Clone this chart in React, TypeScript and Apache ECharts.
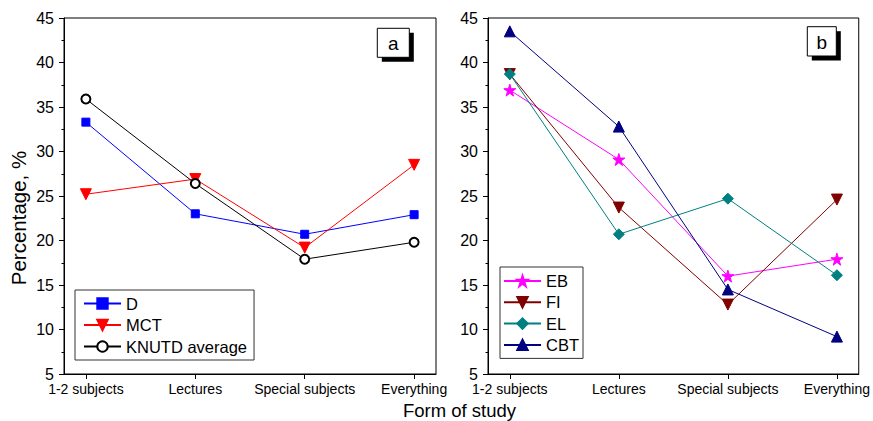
import React, { useEffect, useRef } from "react";
import * as echarts from "echarts";

const categories = ["1-2 subjects", "Lectures", "Special subjects", "Everything"];
const categoryPositions = [0, 1, 2, 3];
const yMin = 5;
const yMax = 45;
const yInterval = 5;

const dValues = [33.3, 23.0, 20.7, 22.9];
const mctValues = [25.2, 26.9, 19.2, 28.5];
const knutdValues = [35.9, 26.4, 17.9, 19.8];

const ebValues = [36.9, 29.1, 16.0, 17.9];
const fiValues = [38.7, 23.7, 12.8, 24.6];
const elValues = [38.7, 20.7, 24.7, 16.1];
const cbtValues = [43.5, 32.8, 14.5, 9.2];

const FONT = "'Liberation Sans', Arial, sans-serif";
const STAR =
  "path://M50,0 L61.2,34.5 L97.6,34.5 L68.2,55.9 L79.4,90.5 L50,69.1 L20.6,90.5 L31.8,55.9 L2.4,34.5 L38.8,34.5 Z";

const toPoints = (vals: number[]) => vals.map((v, i) => [categoryPositions[i], v]);

function makeXAxis(gridIndex: number) {
  return {
    type: "value",
    gridIndex,
    min: -0.2,
    max: 3.2,
    axisLine: { show: true, onZero: false, lineStyle: { color: "#000", width: 1 } },
    splitLine: { show: false },
    axisTick: {
      show: true,
      customValues: categoryPositions,
      length: 5,
      inside: false,
      lineStyle: { color: "#000" },
    },
    axisLabel: {
      show: true,
      customValues: categoryPositions,
      formatter: (v: number) => categories[Math.round(v)] ?? "",
      fontSize: 14,
      color: "#000",
      fontFamily: FONT,
      margin: 8,
      hideOverlap: false,
    },
  };
}

function makeYAxis(gridIndex: number) {
  return {
    type: "value",
    gridIndex,
    min: yMin,
    max: yMax,
    interval: yInterval,
    axisLine: { show: true, onZero: false, lineStyle: { color: "#000", width: 1 } },
    splitLine: { show: false },
    axisTick: { show: true, length: 5, inside: false, lineStyle: { color: "#000" } },
    minorTick: { show: true, splitNumber: 2, length: 2.5, lineStyle: { color: "#000" } },
    axisLabel: {
      fontSize: 16,
      color: "#000",
      fontFamily: FONT,
      margin: 10,
    },
  };
}

function lineSeries(
  name: string,
  vals: number[],
  idx: number,
  color: string,
  symbol: string,
  symbolSize: number,
  extra: any = {}
) {
  return {
    name,
    type: "line",
    xAxisIndex: idx,
    yAxisIndex: idx,
    data: toPoints(vals),
    symbol,
    symbolSize,
    showAllSymbol: true,
    lineStyle: { color, width: 1 },
    itemStyle: { color, borderColor: color, borderWidth: 1 },
    emphasis: { disabled: true },
    z: 2,
    ...extra,
  };
}

function labelBox(x: number, y: number, w: number, h: number, text: string) {
  return {
    type: "group",
    children: [
      { type: "rect", shape: { x: x + 4.5, y: y + 4.5, width: w, height: h }, style: { fill: "#000" } },
      {
        type: "rect",
        shape: { x, y, width: w, height: h },
        style: { fill: "#fff", stroke: "#000", lineWidth: 1 },
      },
      {
        type: "text",
        x: x + w / 2,
        y: y + h / 2 + 1,
        style: {
          text,
          fill: "#000",
          font: `19px ${FONT}`,
          align: "center",
          verticalAlign: "middle",
        },
      },
    ],
  };
}

export default function App() {
  const ref = useRef<HTMLDivElement>(null);
  useEffect(() => {
    document.body.style.margin = "0";
    if (!ref.current) return;
    const chart = echarts.init(ref.current, null, { renderer: "svg" });
    const legendCommon = {
      orient: "vertical",
      itemWidth: 37,
      itemHeight: 13,
      selectedMode: false,
      borderColor: "#333",
      borderWidth: 1,
      borderRadius: 0,
      backgroundColor: "#fff",
      textStyle: { fontSize: 16.5, color: "#000", fontFamily: FONT },
      z: 5,
    };
    chart.setOption({
      animation: false,
      backgroundColor: "#fff",
      textStyle: { fontFamily: FONT },
      grid: [
        { left: 64, top: 18, width: 372, height: 356, show: true, borderColor: "#000", borderWidth: 1, backgroundColor: "transparent" },
        { left: 488, top: 18, width: 371, height: 356, show: true, borderColor: "#000", borderWidth: 1, backgroundColor: "transparent" },
      ],
      xAxis: [makeXAxis(0), makeXAxis(1)],
      yAxis: [makeYAxis(0), makeYAxis(1)],
      legend: [
        {
          ...legendCommon,
          data: ["D", "MCT", "KNUTD average"],
          left: 75,
          top: 290,
          padding: [5, 7, 5, 8],
          itemGap: 4.5,
        },
        {
          ...legendCommon,
          data: ["EB", "FI", "EL", "CBT"],
          left: 500,
          top: 267,
          padding: [5.5, 4, 5, 3],
          itemGap: 4.3,
        },
      ],
      series: [
        lineSeries("D", dValues, 0, "#0000FF", "rect", 8),
        lineSeries("MCT", mctValues, 0, "#FF0000", "triangle", 11, { symbolRotate: 180 }),
        lineSeries("KNUTD average", knutdValues, 0, "#000000", "emptyCircle", 9),
        lineSeries("EB", ebValues, 1, "#FF00FF", STAR, 12),
        lineSeries("FI", fiValues, 1, "#800000", "triangle", 11, { symbolRotate: 180 }),
        lineSeries("EL", elValues, 1, "#008080", "diamond", 11),
        lineSeries("CBT", cbtValues, 1, "#000080", "triangle", 11),
      ],
      graphic: [
        labelBox(377.3, 28.3, 32, 29, "a"),
        labelBox(807.3, 26.7, 29, 29.3, "b"),
        {
          type: "text",
          x: 18.5,
          y: 218,
          rotation: Math.PI / 2,
          style: {
            text: "Percentage, %",
            fill: "#000",
            font: `20.5px ${FONT}`,
            align: "center",
            verticalAlign: "middle",
          },
        },
        {
          type: "text",
          x: 459.5,
          y: 410,
          style: {
            text: "Form of study",
            fill: "#000",
            font: `18.5px ${FONT}`,
            align: "center",
            verticalAlign: "middle",
          },
        },
      ],
    });
    return () => chart.dispose();
  }, []);
  return <div ref={ref} style={{ width: 873, height: 421 }} />;
}
